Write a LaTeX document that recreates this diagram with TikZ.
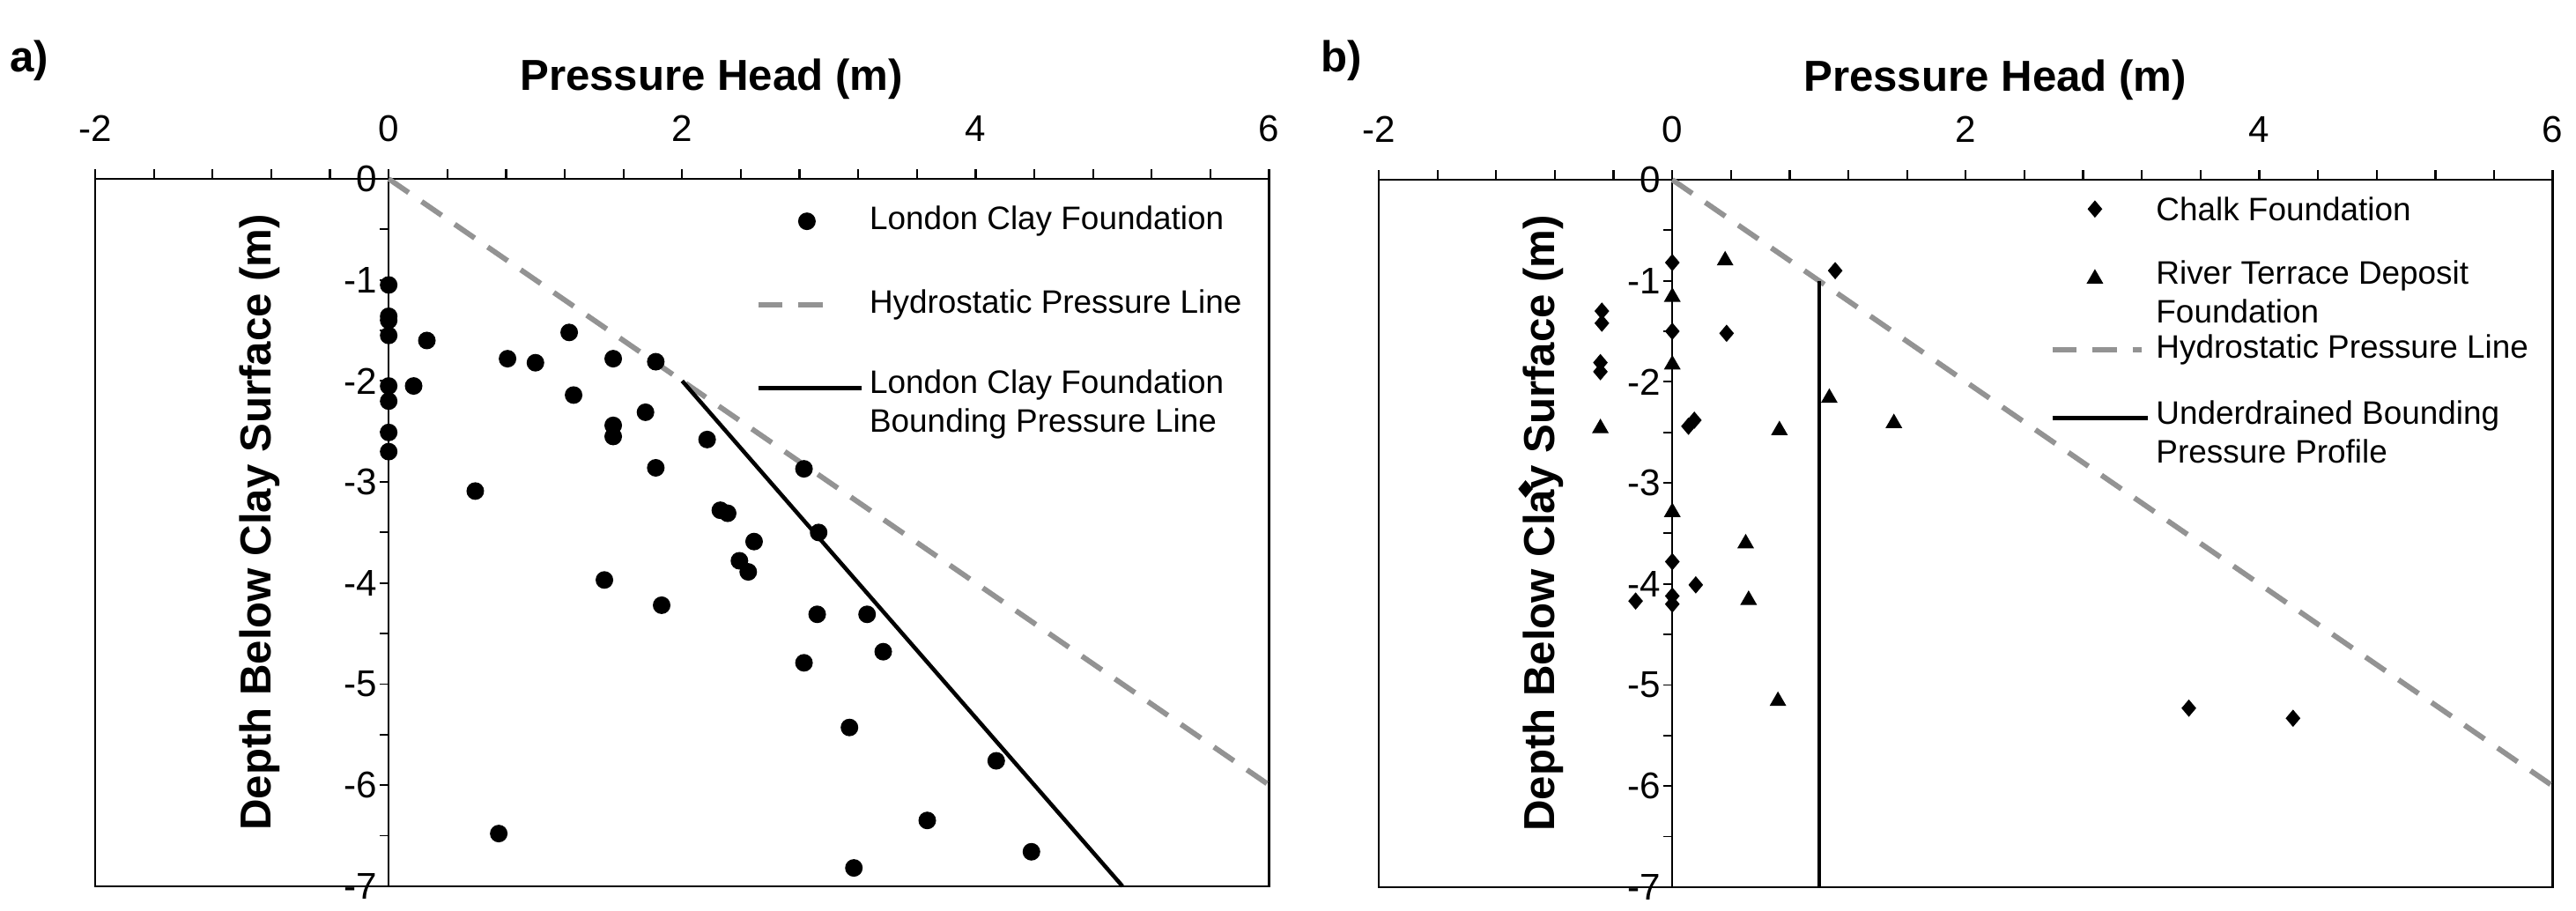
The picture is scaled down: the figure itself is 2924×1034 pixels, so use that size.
\documentclass[tikz,border=0pt]{standalone}
\usepackage{fontspec}
\setmainfont{Liberation Sans}
\usetikzlibrary{shapes.geometric}
\tikzset{
 frame/.style={line width=1.3pt,black},
 hydro/.style={line width=3.4pt,gray!85,dash pattern=on 0.55cm off 0.36cm},
 bound/.style={line width=2.6pt,black},
 dot/.style={circle,fill=black,inner sep=0pt,minimum size=0.4cm},
 dia/.style={diamond,fill=black,inner sep=0pt,minimum width=0.34cm,minimum height=0.4cm},
 tri/.style={regular polygon,regular polygon sides=3,fill=black,inner sep=0pt,minimum size=0.44cm},
 tick/.style={font=\fontsize{24}{26}\selectfont},
 ttl/.style={font=\bfseries\fontsize{28}{30}\selectfont},
 leg/.style={font=\fontsize{21}{25}\selectfont,anchor=west,align=left},
}
\newcommand\axes{%
 \draw[frame] (-2,0) rectangle (6,-7);
 \draw[line width=1pt] (0,0) -- (0,-7);
 \foreach \i in {0,...,20} \draw[frame] ({-2+0.4*\i},0) -- ++(0,0.1);
 \foreach \i in {0,...,14} \draw[line width=1pt] (0,{-0.5*\i}) -- ++(-0.06,0);
 \foreach \v in {-2,0,2,4,6} \node[tick] at (\v,0.5) {\v};
 \foreach \v in {0,-1,...,-7} \node[tick,anchor=east] at (-0.04,\v) {\v};
 \node[ttl] at (2.2,0.99) {Pressure Head (m)};
 \node[ttl,rotate=90] at (-0.88,-3.4) {Depth Below Clay Surface (m)};
 \draw[hydro] (0,0) -- (6,-6);
}
\begin{document}
\begin{tikzpicture}[x=0.02cm,y={(0,-0.02cm)}]
\useasboundingbox (0,0) rectangle (2924,1034);
% panel a
\node[ttl] (la) at (33,69) {a)};
\begin{scope}[shift={(441.2,203)},x=3.332cm,y=2.294cm]
 \axes
 \foreach \p/\q [count=\k] in {0/-1.05,0/-1.36,0/-1.4,0/-1.55,0.26/-1.6,0/-2.05,0.17/-2.05,0/-2.2,0/-2.51,0/-2.7,
 1.23/-1.52,0.81/-1.78,1.0/-1.82,1.53/-1.78,1.82/-1.81,1.26/-2.14,1.75/-2.31,1.53/-2.44,1.53/-2.55,2.17/-2.58,
 1.82/-2.86,2.83/-2.87,0.59/-3.09,2.26/-3.28,2.31/-3.31,2.93/-3.5,2.49/-3.59,2.39/-3.78,2.45/-3.89,1.47/-3.97,
 1.86/-4.22,2.92/-4.31,3.26/-4.31,3.37/-4.68,2.83/-4.79,3.14/-5.43,4.14/-5.76,3.67/-6.35,0.75/-6.48,4.38/-6.66,3.17/-6.82}
  \node[dot] (a\k) at (\p,\q) {};
 \coordinate (b1) at (2,-2); \coordinate (b2) at (5,-7);
 \draw[bound] (b1) -- (b2);
 \node[dot] (lga) at (2.85,-0.42) {};
 \node[leg] (lta) at (3.24,-0.42) {London Clay Foundation};
 \coordinate (h1) at (2.52,-1.25); \coordinate (h2) at (3.06,-1.25);
 \draw[hydro] (h1) -- (h2);
 \node[leg] at (3.24,-1.25) {Hydrostatic Pressure Line};
 \coordinate (s1) at (2.52,-2.07); \coordinate (s2) at (3.22,-2.07);
 \draw[bound] (s1) -- (s2);
 \node[leg,anchor=north west] at (3.24,-1.84) {London Clay Foundation\\Bounding Pressure Line};
\end{scope}
% panel b
\node[ttl] (lb) at (1523,69) {b)};
\begin{scope}[shift={(1898.2,204)},x=3.332cm,y=2.294cm]
 \axes
 \foreach \p/\q [count=\k] in {0/-0.82,1.11/-0.9,-0.48/-1.3,-0.48/-1.42,0/-1.5,0.37/-1.52,-0.49/-1.81,-0.49/-1.9,
 0.15/-2.38,0.11/-2.44,-1.0/-3.06,0/-3.78,0.16/-4.01,-0.25/-4.17,0/-4.12,0/-4.2,3.52/-5.23,4.23/-5.33}
  \node[dia] (c\k) at (\p,\q) {};
 \foreach \p/\q [count=\k] in {0.36/-0.8,0/-1.16,0/-1.83,-0.49/-2.46,1.07/-2.16,0.73/-2.48,1.51/-2.41,0/-3.29,0.5/-3.6,0.52/-4.16,0.72/-5.16}
  \node[tri] (r\k) at (\p,\q) {};
 \coordinate (v1) at (1,-1); \coordinate (v2) at (1,-7);
 \draw[bound] (v1) -- (v2);
 \node[dia] (lgc) at (2.88,-0.29) {};
 \node[leg] at (3.26,-0.29) {Chalk Foundation};
 \node[tri] (lgr) at (2.88,-0.98) {};
 \node[leg,anchor=north west] at (3.26,-0.75) {River Terrace Deposit\\Foundation};
 \coordinate (h3) at (2.59,-1.68); \coordinate (h4) at (3.2,-1.68);
 \draw[hydro] (h3) -- (h4);
 \node[leg] at (3.26,-1.68) {Hydrostatic Pressure Line};
 \coordinate (s3) at (2.59,-2.36); \coordinate (s4) at (3.24,-2.36);
 \draw[bound] (s3) -- (s4);
 \node[leg,anchor=north west] at (3.26,-2.13) {Underdrained Bounding\\Pressure Profile};
\end{scope}
\end{tikzpicture}
\end{document}
